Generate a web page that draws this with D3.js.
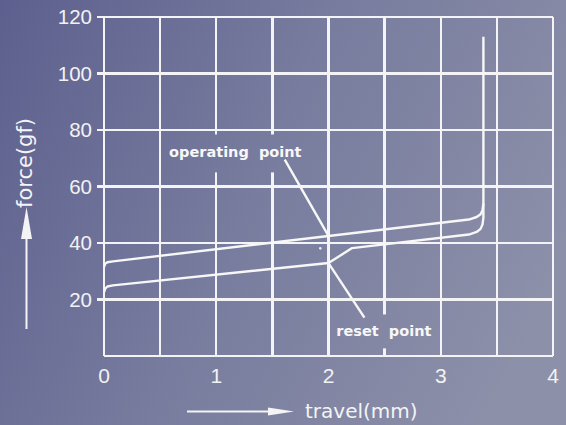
<!DOCTYPE html>
<head>
  <title>Force vs travel</title>
  <meta charset="utf-8">
  <style>
    body {margin: 0; background: #6d7196;}
    svg {display: block;}
    .grid line {
        stroke: #f4f4f6;
        stroke-width: 2.4;
        shape-rendering: crispEdges;
    }
    .curve {
        fill: none;
        stroke: #f7f7f8;
        stroke-width: 2.4;
        stroke-linejoin: round;
    }
    .tick-label {
        font-family: "Liberation Sans", Arial, sans-serif;
        fill: #f2f2f4;
    }
    .note {
        font-family: "DejaVu Sans", sans-serif;
        font-weight: bold;
        font-size: 14.5px;
        fill: #f7f7f8;
    }
    .title {
        font-family: "DejaVu Sans", sans-serif;
        fill: #f4f4f6;
    }
  </style>
</head>

<body>
  <svg width="566" height="425"></svg>

  <script src="https://d3js.org/d3.v7.min.js"></script>
  <script>
    // axis ticks
    var xTicks = [0, 1, 2, 3, 4];
    var xGrid = [0, 0.5, 1, 1.5, 2, 2.5, 3, 3.5, 4];
    var yTicks = [20, 40, 60, 80, 100, 120];

    // press stroke (travel mm, force gf)
    var pressTravel = [0, 0.01, 0.03, 0.08, 3.25, 3.32, 3.355, 3.372, 3.38, 3.38];
    var pressForce  = [31.5, 32.6, 33.2, 33.5, 48.3, 49.2, 50.2, 51.6, 54, 113];

    // release stroke
    var releaseTravel = [0, 0.01, 0.03, 0.08, 2.0, 2.21, 3.25, 3.32, 3.355, 3.372, 3.38, 3.38];
    var releaseForce  = [22.6, 23.8, 24.6, 25.0, 32.9, 38.2, 43.0, 43.9, 45.0, 46.6, 49, 54];

    // faint broken top of the vertical rise
    var topTravel = [3.38, 3.38];
    var topForce = [113, 119.5];

    // annotations: point on the curve, end of leader, label position
    var notes = [
      {label: "operating  point", px: 2.0, py: 42.5, lx: 1.61, ly: 69.5, tx: 0.58, ty: 70.4},
      {label: "reset  point", px: 2.0, py: 32.9, lx: 2.32, ly: 13.6, tx: 2.07, ty: 7.1}
    ];

    // stray dot in the picture
    var dots = [{x: 1.927, y: 38.1}];

    var svg = d3.select("svg"),
        W = +svg.attr("width"),
        H = +svg.attr("height");

    var x = d3.scaleLinear().domain([0, 4]).range([104, 553]),
        y = d3.scaleLinear().domain([0, 120]).range([356, 17]);

    // background gradient
    var defs = svg.append("defs");
    var grad = defs.append("linearGradient")
        .attr("id", "bg")
        .attr("gradientUnits", "userSpaceOnUse")
        .attr("x1", 0).attr("y1", 0)
        .attr("x2", W).attr("y2", 260);
    grad.append("stop").attr("offset", 0).attr("stop-color", "#5d608e");
    grad.append("stop").attr("offset", 0.5).attr("stop-color", "#787c9e");
    grad.append("stop").attr("offset", 1).attr("stop-color", "#8c90a9");

    svg.append("rect")
        .attr("width", W).attr("height", H)
        .attr("fill", "url(#bg)");

    // grid
    var grid = svg.append("g").attr("class", "grid");
    grid.selectAll(".h")
        .data(yTicks)
      .enter().append("line")
        .attr("x1", x(0) - 7).attr("x2", x(4))
        .attr("y1", function(d) { return y(d); })
        .attr("y2", function(d) { return y(d); });
    grid.append("line")
        .attr("x1", x(0)).attr("x2", x(4))
        .attr("y1", y(0)).attr("y2", y(0));
    grid.selectAll(".v")
        .data(xGrid)
      .enter().append("line")
        .attr("x1", function(d) { return x(d); })
        .attr("x2", function(d) { return x(d); })
        .attr("y1", y(0)).attr("y2", y(120));

    // masks behind the labels
    svg.append("rect")
        .attr("x", x(0.525)).attr("y", y(78.4))
        .attr("width", x(1.975) - x(0.525)).attr("height", y(65) - y(78.4))
        .attr("fill", "url(#bg)");
    svg.append("rect")
        .attr("x", x(2.04)).attr("y", y(14.7))
        .attr("width", x(2.96) - x(2.04)).attr("height", y(2.7) - y(14.7))
        .attr("fill", "url(#bg)");

    // tick labels
    svg.append("g").selectAll("text")
        .data(yTicks)
      .enter().append("text")
        .attr("class", "tick-label")
        .attr("font-size", 20.5)
        .attr("text-anchor", "end")
        .attr("x", x(0) - 12)
        .attr("y", function(d) { return y(d); })
        .attr("dy", "0.36em")
        .text(function(d) { return d; });

    svg.append("g").selectAll("text")
        .data(xTicks)
      .enter().append("text")
        .attr("class", "tick-label")
        .attr("font-size", 21)
        .attr("text-anchor", "middle")
        .attr("x", function(d) { return x(d); })
        .attr("y", y(0) + 27)
        .text(function(d) { return d; });

    // curves
    var line = d3.line()
        .x(function(d) { return x(d[0]); })
        .y(function(d) { return y(d[1]); });

    var press = d3.zip(pressTravel, pressForce),
        release = d3.zip(releaseTravel, releaseForce),
        top = d3.zip(topTravel, topForce);

    svg.append("path").attr("class", "curve").attr("d", line(release));
    svg.append("path").attr("class", "curve").attr("d", line(press));
    svg.append("path").attr("class", "curve")
        .attr("d", line(top))
        .attr("stroke-dasharray", "4,3")
        .attr("stroke-opacity", 0.55);

    svg.selectAll(".dot")
        .data(dots)
      .enter().append("circle")
        .attr("cx", function(d) { return x(d.x); })
        .attr("cy", function(d) { return y(d.y); })
        .attr("r", 1.3)
        .attr("fill", "#e8e8f0");

    // annotations
    var note = svg.selectAll(".noteg")
        .data(notes)
      .enter().append("g");
    note.append("line")
        .attr("class", "curve")
        .attr("stroke-width", 2)
        .attr("x1", function(d) { return x(d.px); })
        .attr("y1", function(d) { return y(d.py); })
        .attr("x2", function(d) { return x(d.lx); })
        .attr("y2", function(d) { return y(d.ly); });
    note.append("text")
        .attr("class", "note")
        .attr("x", function(d) { return x(d.tx); })
        .attr("y", function(d) { return y(d.ty); })
        .attr("xml:space", "preserve")
        .style("white-space", "pre")
        .text(function(d) { return d.label; });

    // axis titles with arrows
    var arrows = svg.append("g").attr("fill", "#f4f4f6").attr("stroke", "#f4f4f6");
    arrows.append("line")
        .attr("x1", 187).attr("x2", 270)
        .attr("y1", 411.5).attr("y2", 411.5)
        .attr("stroke-width", 2);
    arrows.append("path")
        .attr("stroke", "none")
        .attr("d", "M268,407.5L294,411.5L268,415.5Z");
    arrows.append("line")
        .attr("x1", 26.5).attr("x2", 26.5)
        .attr("y1", 329).attr("y2", 236)
        .attr("stroke-width", 2);
    arrows.append("path")
        .attr("stroke", "none")
        .attr("d", "M21,239L26.5,207L32,239Z");

    svg.append("text")
        .attr("class", "title")
        .attr("font-size", 20)
        .attr("x", 305)
        .attr("y", 418)
        .text("travel(mm)");

    svg.append("text")
        .attr("class", "title")
        .attr("font-size", 21)
        .attr("transform", "translate(32,208) rotate(-90)")
        .text("force(gf)");
  </script>
</body>
